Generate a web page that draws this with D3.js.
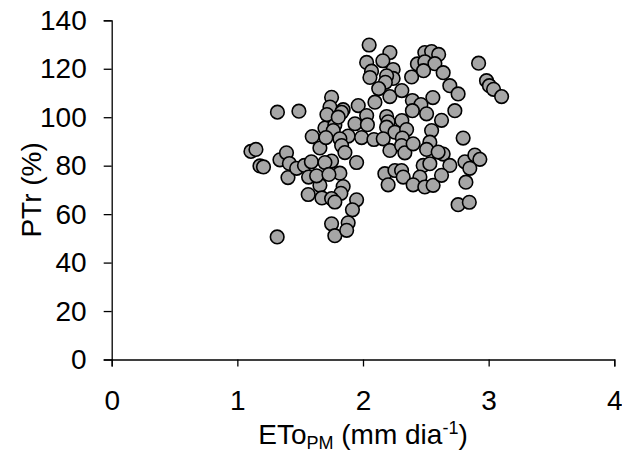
<!DOCTYPE html>
<html>
<head>
<meta charset="utf-8">
<script src="https://cdn.jsdelivr.net/npm/d3@7"></script>
<style>
  html, body { margin: 0; padding: 0; background: #fff; }
  svg { display: block; font-family: "Liberation Sans", Arial, sans-serif; }
</style>
</head>
<body>
<svg id="chart" width="622" height="455"></svg>
<script>
// Reference evapotranspiration (mm/day) per observation
const eto = [
  1.108, 1.148, 1.180, 1.208, 1.319, 1.490, 1.317, 1.339, 1.391, 1.414,
  1.403, 1.472, 1.534, 1.589, 1.567, 1.564, 1.596, 1.657, 1.657, 1.673,
  1.631, 1.697, 1.776, 1.750, 1.737, 1.713, 1.842, 1.830, 1.803, 1.882,
  1.763, 1.816, 1.705, 1.830, 1.856, 1.750, 1.697, 1.949, 1.816, 1.729,
  1.842, 1.824, 1.750, 1.776, 1.949, 1.916, 1.750, 1.882, 1.776, 1.870,
  1.989, 1.962, 1.936, 2.029, 2.035, 2.049, 2.214, 2.029, 2.158, 2.068,
  2.055, 2.240, 2.240, 2.188, 2.178, 2.387, 2.433, 2.125, 2.095, 2.214,
  2.309, 2.393, 2.188, 2.200, 2.188, 2.309, 2.254, 2.347, 2.087, 2.161,
  2.313, 2.214, 2.307, 2.333, 2.399, 2.492, 2.546, 2.602, 2.492, 2.572,
  2.482, 2.638, 2.691, 2.757, 2.556, 2.461, 2.393, 2.506, 2.731, 2.625,
  2.546, 2.532, 2.797, 2.920, 2.983, 3.006, 3.039, 3.103, 2.174, 2.200,
  2.254, 2.307, 2.320, 2.506, 2.638, 2.598, 2.691, 2.479, 2.532, 2.453,
  2.399, 2.492, 2.558, 2.625, 2.811, 2.890, 2.930, 2.850, 2.819, 2.757,
  2.846
];
// Relative transpiration (%) for the same observations
const ptr = [
  85.9, 86.7, 79.9, 79.5, 102.1, 102.5, 50.6, 82.4, 85.3, 80.9,
  75.1, 78.9, 80.1, 81.6, 75.3, 68.1, 92.0, 87.3, 71.9, 66.7,
  75.8, 95.5, 96.8, 108.2, 104.2, 101.1, 103.1, 102.0, 100.0, 92.2,
  94.5, 91.1, 91.6, 88.3, 85.4, 81.9, 81.3, 81.3, 76.9, 76.4,
  71.4, 68.6, 66.4, 65.0, 65.9, 61.8, 56.0, 56.4, 51.1, 53.3,
  91.6, 104.8, 97.3, 100.7, 96.9, 129.8, 126.7, 122.6, 123.3, 119.0,
  116.4, 119.7, 116.0, 117.1, 114.4, 116.6, 122.0, 111.8, 106.2, 108.5,
  111.0, 106.9, 100.3, 98.1, 95.9, 98.6, 93.8, 94.9, 90.8, 91.1,
  91.4, 86.3, 88.3, 85.3, 89.0, 126.7, 127.1, 125.9, 122.9, 122.1,
  119.2, 118.4, 113.0, 109.6, 108.1, 105.2, 102.7, 101.4, 102.7, 98.7,
  94.5, 89.7, 91.4, 122.3, 115.1, 113.0, 111.5, 108.5, 76.7, 72.1,
  78.0, 78.0, 75.3, 86.7, 84.8, 85.6, 80.1, 80.1, 80.8, 75.3,
  72.1, 71.2, 71.9, 76.0, 81.6, 84.4, 82.6, 78.9, 73.2, 63.9,
  64.9
];
const xTicks = [0, 1, 2, 3, 4];
const yTicks = [0, 20, 40, 60, 80, 100, 120, 140];

const svg = d3.select("#chart");
const x = d3.scaleLinear().domain([0, 4]).range([111.7, 614.3]);
const y = d3.scaleLinear().domain([0, 140]).range([359.5, 20.3]);

const fontSize = 28;

// y axis
const yAxis = svg.append("g")
  .attr("transform", `translate(${x(0)},0)`)
  .call(d3.axisLeft(y).tickValues(yTicks).tickSize(8).tickPadding(17).tickFormat(d3.format("d")));
// x axis
const xAxis = svg.append("g")
  .attr("transform", `translate(0,${y(0)})`)
  .call(d3.axisBottom(x).tickValues(xTicks).tickSize(7).tickPadding(24).tickFormat(d3.format("d")));

[xAxis, yAxis].forEach(g => {
  g.select(".domain").attr("stroke", "#000").attr("stroke-width", 1.3);
  g.selectAll(".tick line").attr("stroke", "#000").attr("stroke-width", 1.3);
  g.selectAll(".tick text")
    .attr("fill", "#000")
    .style("font-size", fontSize + "px")
    .style("font-family", "'Liberation Sans', Arial, sans-serif");
});

// scatter points
svg.append("g")
  .selectAll("circle")
  .data(eto.map((e, i) => ({ e, p: ptr[i] })))
  .join("circle")
  .attr("cx", d => x(d.e))
  .attr("cy", d => y(d.p))
  .attr("r", 6.8)
  .attr("fill", "#a6a6a6")
  .attr("stroke", "#000")
  .attr("stroke-width", 1.6);

// x axis title with subscript and superscript
const xt = svg.append("text")
  .attr("x", (x(0) + x(4)) / 2)
  .attr("y", 444)
  .attr("text-anchor", "middle")
  .style("font-size", fontSize + "px")
  .attr("fill", "#000");
xt.append("tspan").text("ETo");
xt.append("tspan").attr("dy", 5).style("font-size", "18px").text("PM");
xt.append("tspan").attr("dy", -5).text(" (mm dia");
xt.append("tspan").attr("dy", -10).style("font-size", "18px").text("-1");
xt.append("tspan").attr("dy", 10).text(")");

// y axis title
svg.append("text")
  .attr("transform", `translate(41,${(y(0) + y(140)) / 2}) rotate(-90)`)
  .attr("text-anchor", "middle")
  .style("font-size", fontSize + "px")
  .attr("fill", "#000")
  .text("PTr (%)");
</script>
</body>
</html>
